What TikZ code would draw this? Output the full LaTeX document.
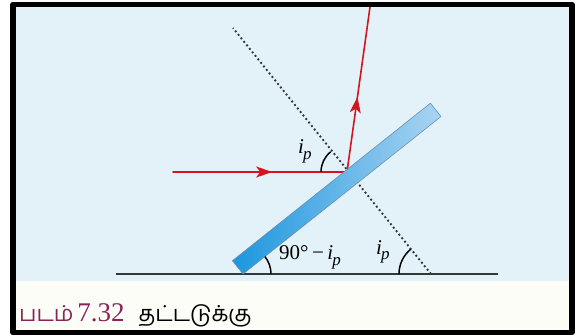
\documentclass[tikz,border=0pt]{standalone}
\usepackage{fontspec}
\setmainfont{Liberation Serif}
\newfontfamily\tamilfont[Script=Tamil]{Hind Madurai}
\usetikzlibrary{arrows.meta,decorations.markings}

\definecolor{skybg}{RGB}{227,242,249}
\definecolor{capband}{RGB}{253,253,248}
\definecolor{rayred}{RGB}{214,20,30}
\definecolor{glassdark}{RGB}{28,150,222}
\definecolor{glasslight}{RGB}{170,212,242}
\definecolor{glassedge}{RGB}{105,145,178}
\definecolor{capmaroon}{RGB}{136,36,86}
\definecolor{floorgray}{RGB}{48,58,60}

\newcommand\ipsym{\textit{i}\kern-1pt\raisebox{-0.6ex}{\fontsize{17}{17}\selectfont\textit{p}}}

\begin{document}
\begin{tikzpicture}[x=1pt,y=1pt,line cap=round,line join=round,
    ray/.style={draw=rayred,line width=1.6pt,postaction=decorate},
    angarc/.style={line width=1.5pt,line cap=butt},
    lbl/.style={inner sep=0pt,anchor=base west,font=\fontsize{21}{21}\selectfont}]
  \def\tilt{38.5}
  \useasboundingbox (0,0) rectangle (576,335);
  \fill[skybg] (16,54) rectangle (569,328);
  \fill[capband] (16,5) rectangle (569,54);
  % floor and normal
  \coordinate (gl) at (116,61);
  \coordinate (gr) at (498,61);
  \coordinate (foot) at (431,61);
  \coordinate (ntop) at (233,307);
  \draw[floorgray,line width=2pt,line cap=butt] (gl) -- (gr);
  \draw[floorgray,line width=1.9pt,line cap=butt,dash pattern=on 1.9pt off 2.6pt] (foot) -- (ntop);
  % incident and reflected rays
  \coordinate (src) at (173,163);
  \coordinate (hit) at (347,163);
  \coordinate (out) at (370,328);
  \draw[ray,decoration={markings,mark=at position 0.57 with {\arrow{Stealth[length=16pt,width=11pt,inset=4pt]}}}] (src) -- (hit);
  \draw[ray,decoration={markings,mark=at position 0.455 with {\arrow{Stealth[length=16pt,width=11pt,inset=4pt]}}}] (hit) -- (out);
  % glass plate
  \begin{scope}[shift={(243,61)},rotate=\tilt]
    \shade[left color=glassdark,right color=glasslight,draw=glassedge,line width=0.6pt] (0,0) rectangle (253,17);
    \coordinate (base) at (0,0);
  \end{scope}
  % angles
  \draw[angarc] ([shift={(180:26)}]hit) arc[start angle=180,end angle=129,radius=26];
  \draw[angarc] ([shift={(0:28)}]base) arc[start angle=0,end angle=\tilt,radius=28];
  \draw[angarc] ([shift={(180:32)}]foot) arc[start angle=180,end angle=129,radius=32];
  \node[lbl] (ipup) at (298,181) {\ipsym};
  \node[lbl] (ipmid) at (279,75) {90°\,−\,\ipsym};
  \node[lbl] (ipright) at (376,81) {\ipsym};
  % caption
  \node[inner sep=0pt,anchor=base west,font=\fontsize{22}{22}\selectfont] (cap) at (19,14)
    {{\color{capmaroon}{\tamilfont படம்}\,{\fontsize{27}{27}\selectfont 7.32}}\hspace{14pt}{\tamilfont தட்டடுக்கு}};
  % frame
  \draw[line width=5.5pt,line cap=butt] (13,2.5) rectangle (572,330.5);
\end{tikzpicture}
\end{document}
